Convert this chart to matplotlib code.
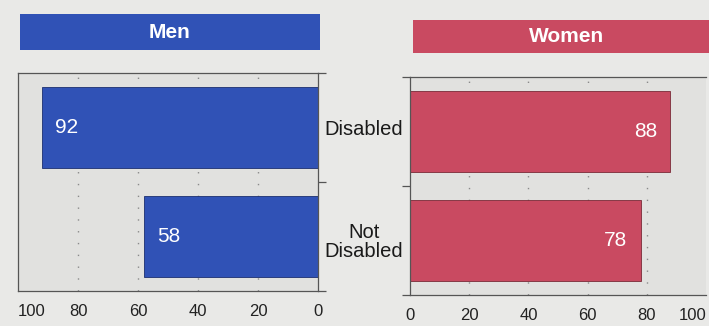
import matplotlib
matplotlib.use("Agg")
import matplotlib.pyplot as plt
from matplotlib.patches import Rectangle

plt.rcParams['font.family'] = ['Liberation Sans', 'DejaVu Sans']

categories = ["Disabled", "Not\nDisabled"]
men = [92, 58]
women = [88, 78]
ticks = [0, 20, 40, 60, 80, 100]
tick_labels = ["0", "20", "40", "60", "80", "100"]

BLUE = "#3052b6"
RED = "#c94a61"
BG = "#e9e9e7"
PANEL = "#e1e1df"
SPINE = "#555555"

W, H = 709, 326
fig = plt.figure(figsize=(W / 100, H / 100), dpi=100, facecolor=BG)


def px_axes(left, top, right, bottom):
    return fig.add_axes([left / W, 1 - bottom / H, (right - left) / W, (bottom - top) / H])


def header(left, top, right, bottom, color, label):
    fig.patches.append(Rectangle((left / W, 1 - bottom / H), (right - left) / W,
                                 (bottom - top) / H, transform=fig.transFigure,
                                 facecolor=color, edgecolor="none"))
    fig.text((left + right) / 2 / W, 1 - (top + bottom) / 2 / H, label, color="white",
             fontsize=15, fontweight="bold", ha="center", va="center")


def style(ax, side):
    ax.set_facecolor(PANEL)
    ax.set_xlim(0, 100)
    ax.set_ylim(1.5, -0.5)
    for s in ax.spines.values():
        s.set_color(SPINE)
        s.set_linewidth(0.9)
    ax.set_xticks(ticks)
    ax.set_xticklabels(tick_labels)
    ax.tick_params(axis="x", length=0, pad=9, labelsize=12, colors="#222222")
    ax.set_yticks([-0.5, 0.5, 1.5])
    ax.set_yticklabels([])
    ax.tick_params(axis="y", direction="out", length=6, width=0.9, color=SPINE)
    if side == "right":
        ax.yaxis.tick_right()
    else:
        ax.yaxis.tick_left()
        ax.spines["right"].set_visible(False)
    for g in ticks[1:-1]:
        ax.axvline(g, color="#8a8a8a", lw=1.0, linestyle=(0, (1, 7.5)), zorder=0.5)


ypos = list(range(len(categories)))

ax_m = px_axes(18, 73, 318, 291)
style(ax_m, "right")
ax_m.invert_xaxis()
ax_m.barh(ypos, men, height=0.74, color=BLUE, edgecolor="#1c2f70", linewidth=0.6, zorder=2)
for y, v in zip(ypos, men):
    ax_m.text(v - 4.5, y, str(v), color="white", fontsize=15, ha="left", va="center", zorder=3)
# outermost "100" label starts at the panel edge
ax_m.get_xticklabels()[-1].set_horizontalalignment("left")

ax_w = px_axes(410, 77, 706, 295)
style(ax_w, "left")
ax_w.barh(ypos, women, height=0.74, color=RED, edgecolor="#7a2a38", linewidth=0.6, zorder=2)
for y, v in zip(ypos, women):
    ax_w.text(v - 4.5, y, str(v), color="white", fontsize=15, ha="right", va="center", zorder=3)
ax_w.get_xticklabels()[-1].set_horizontalalignment("right")

# category labels sit in the gap between the two panels
for y_px, lab in zip([130, 242], categories):
    fig.text(364 / W, 1 - y_px / H, lab, fontsize=14.5, ha="center", va="center",
             color="#1a1a1a", linespacing=1.05)

header(20, 14, 320, 50, BLUE, "Men")
header(413, 20, 720, 53, RED, "Women")

fig.savefig("out.png", dpi=100, facecolor=BG)
